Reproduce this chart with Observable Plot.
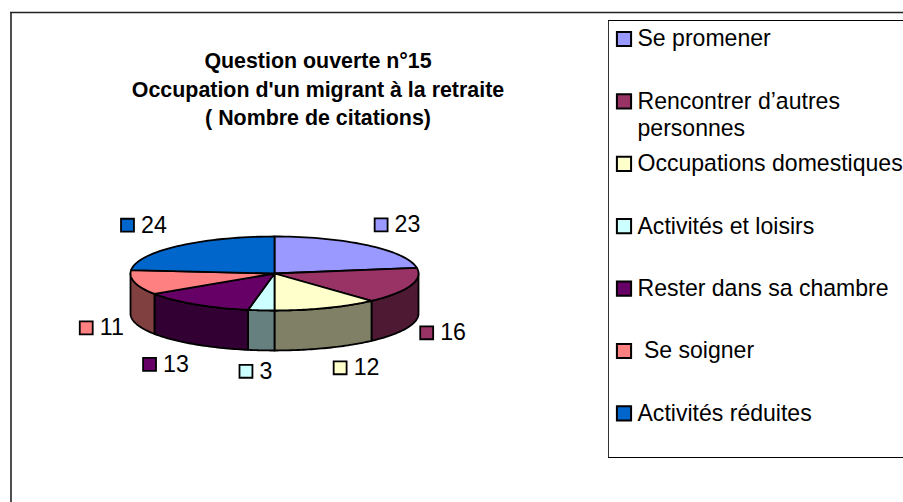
<!DOCTYPE html>
<html>
<head>
<meta charset="utf-8">
<script src="https://cdn.jsdelivr.net/npm/d3@7"></script>
<script src="https://cdn.jsdelivr.net/npm/@observablehq/plot@0.6"></script>
<style>
  html, body { margin: 0; padding: 0; background: #fff; overflow: hidden; }
  svg { display: block; }
</style>
</head>
<body>
<div id="chart"></div>
<script>
// Data
const categories = ["Se promener", "Rencontrer d’autres\npersonnes", "Occupations domestiques", "Activités et loisirs", "Rester dans sa chambre", " Se soigner", "Activités réduites"];
const citations = [23, 16, 12, 3, 13, 11, 24];
const topColors = ["#9999FF", "#993366", "#FFFFCC", "#CCFFFF", "#660066", "#FF8080", "#0066CC"];
const wallColors = ["#4D4D80", "#4D1933", "#808066", "#668080", "#330033", "#804040", "#003366"];
const titleLines = ["Question ouverte n°15", "Occupation d'un migrant à la retraite", "( Nombre de citations)"];

// Layout constants
const W = 903, H = 502;
const pie = {cx: 274, cy: 273, rx: 144, ry: 37, depth: 40};
const labelNudge = [[2, 0], [-8, -2], [16, 0], [8, 0], [-1, 2], [15, -2], [0, -1]];

const arcs = d3.pie().sort(null).value(d => d).startAngle(0).endAngle(2 * Math.PI)(citations);
const px = a => pie.cx + pie.rx * Math.sin(a);
const py = a => pie.cy - pie.ry * Math.cos(a);
const sweep = (a0, a1) => d3.range(0, 41).map(i => a0 + (a1 - a0) * i / 40);

// Top faces of the pie
const tops = arcs.flatMap((s, i) => {
  const ring = [[pie.cx, pie.cy], ...sweep(s.startAngle, s.endAngle).map(a => [px(a), py(a)]), [pie.cx, pie.cy]];
  return ring.map(([x, y]) => ({x, y, key: i, color: topColors[i]}));
});

// Front walls: only the part of each slice facing the viewer (between 90° and 270°)
const walls = arcs.flatMap((s, i) => {
  const a0 = Math.max(s.startAngle, Math.PI / 2), a1 = Math.min(s.endAngle, 3 * Math.PI / 2);
  if (a1 <= a0) return [];
  const upper = sweep(a0, a1).map(a => [px(a), py(a)]);
  const lower = sweep(a1, a0).map(a => [px(a), py(a) + pie.depth]);
  return [...upper, ...lower, upper[0]].map(([x, y]) => ({x, y, key: i, color: wallColors[i]}));
});

// Value labels follow each slice's mid-angle
const valueLabels = arcs.map((s, i) => {
  const m = (s.startAngle + s.endAngle) / 2;
  const c = Math.cos(m);
  const x = pie.cx + 190 * Math.sin(m) + labelNudge[i][0];
  const y = pie.cy + (c > 0 ? -64 * c : 43 - 55 * c) + labelNudge[i][1];
  return {x, y, value: citations[i], color: topColors[i]};
});

const legendRows = categories.map((label, i) => ({label, color: topColors[i], y: 38.5 + 62.4 * i}));
const legendLines = legendRows.flatMap(d => d.label.split("\n").map((t, j) => ({t, y: d.y + j * 27})));
const titleRows = titleLines.map((t, i) => ({t, y: 61 + 28.5 * i}));

const chart = Plot.plot({
  width: W, height: H,
  margin: 0,
  style: {fontFamily: "'Liberation Sans', Arial, sans-serif", background: "#fff", color: "#000"},
  x: {domain: [0, W], range: [0, W], axis: null},
  y: {domain: [0, H], range: [0, H], axis: null},
  color: {type: "identity"},
  marks: [
    // outer frame
    Plot.ruleX([10.5], {y1: 12, y2: H, stroke: "#222", strokeWidth: 1.6}),
    Plot.ruleY([12], {x1: 10, x2: W, stroke: "#222", strokeWidth: 1.6}),
    // legend frame
    Plot.ruleX([608], {y1: 20, y2: 457, stroke: "#333", strokeWidth: 1}),
    Plot.ruleY([20], {x1: 608, x2: W, stroke: "#000", strokeWidth: 1}),
    Plot.ruleY([457], {x1: 608, x2: W, stroke: "#000", strokeWidth: 1}),
    // title
    Plot.text(titleRows, {x: () => 317.5, y: "y", text: "t", fontSize: 21.4, fontWeight: "bold", fill: "#000"}),
    // pie
    Plot.line(walls, {x: "x", y: "y", z: "key", fill: "color", stroke: "#000", strokeWidth: 1.8, curve: "linear"}),
    Plot.line(tops, {x: "x", y: "y", z: "key", fill: "color", stroke: "#000", strokeWidth: 1.8, curve: "linear"}),
    // value labels
    Plot.dot(valueLabels, {x: d => d.x - 19, y: "y", symbol: "square", r: 7.3, fill: "color", stroke: "#000", strokeWidth: 1.8}),
    Plot.text(valueLabels, {x: d => d.x - 5.5, y: "y", text: d => String(d.value), textAnchor: "start", fontSize: 23.2, fill: "#000"}),
    // legend
    Plot.dot(legendRows, {x: () => 623.5, y: "y", symbol: "square", r: 8, fill: "color", stroke: "#000", strokeWidth: 2}),
    Plot.text(legendLines, {x: () => 637, y: "y", text: "t", textAnchor: "start", fontSize: 23.05, fill: "#000"})
  ]
});
document.getElementById("chart").append(chart);
</script>
</body>
</html>
